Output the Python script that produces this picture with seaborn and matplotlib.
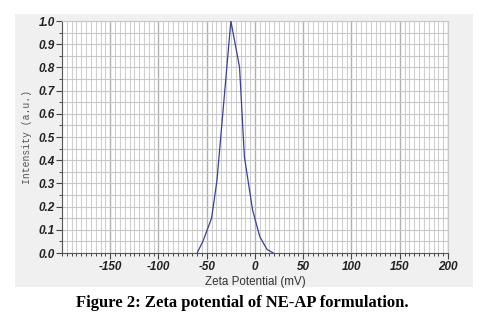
import matplotlib
matplotlib.use("Agg")
import matplotlib.pyplot as plt
import seaborn as sns
import numpy as np
import pandas as pd
from matplotlib.patches import Rectangle
from matplotlib.ticker import MultipleLocator, FixedLocator

zeta_mv = [-60, -54, -45, -39.5, -25, -16, -11, -2.5, 5, 12.5, 19]
intensity = [0.0, 0.05, 0.15, 0.31, 1.0, 0.80, 0.415, 0.185, 0.07, 0.015, 0.0]
x_ticks = [-150, -100, -50, 0, 50, 100, 150, 200]
y_ticks = [0.0, 0.1, 0.2, 0.3, 0.4, 0.5, 0.6, 0.7, 0.8, 0.9, 1.0]

df = pd.DataFrame({"Zeta": zeta_mv, "Intensity": intensity})

sns.set_style("white")
plt.rcParams["font.family"] = ["Liberation Sans", "DejaVu Sans"]

fig = plt.figure(figsize=(4.85, 3.27), dpi=100)
fig.patch.set_facecolor("white")
fig.add_artist(Rectangle((15/485, 1-287/327), (473-15)/485, (287-14)/327,
                         transform=fig.transFigure, facecolor="#f0f0f0",
                         edgecolor="none", zorder=0))

ax = fig.add_axes([62/485, 1-253/327, (448-62)/485, (253-21)/327])
ax.set_facecolor("white")

sns.lineplot(data=df, x="Zeta", y="Intensity", ax=ax, color="#3b3f94",
             linewidth=0.9, zorder=5)

ax.set_xlim(-200, 200)
ax.set_ylim(0, 1.0)
ax.xaxis.set_major_locator(FixedLocator(x_ticks))
ax.xaxis.set_minor_locator(MultipleLocator(5))
ax.yaxis.set_major_locator(FixedLocator(y_ticks))
ax.yaxis.set_minor_locator(MultipleLocator(0.05))
ax.set_yticklabels([f"{v:.1f}" for v in y_ticks])
ax.set_xticklabels([str(v) for v in x_ticks])

ax.grid(which="minor", axis="x", color="#cfcfcf", linewidth=0.8)
ax.grid(which="major", axis="x", color="#b0b0b0", linewidth=1.0)
ax.grid(which="both", axis="y", color="#c8c8c8", linewidth=0.8)

for lbl in ax.get_xticklabels() + ax.get_yticklabels():
    lbl.set_fontweight("bold")
    lbl.set_fontstyle("italic")
    lbl.set_fontsize(8.5)
    lbl.set_color("#222222")

ax.tick_params(which="major", direction="out", length=4, width=0.8, color="#444444",
               left=True, bottom=True)
ax.tick_params(which="minor", direction="out", length=2.5, width=0.7, color="#444444",
               left=True, bottom=True)
ax.tick_params(axis="x", pad=2)
ax.tick_params(axis="y", pad=1)

for s in ["top", "right"]:
    ax.spines[s].set_color("#c8c8c8")
    ax.spines[s].set_linewidth(0.8)
for s in ["left", "bottom"]:
    ax.spines[s].set_color("#555555")
    ax.spines[s].set_linewidth(0.8)

ax.set_xlabel("Zeta Potential (mV)", fontsize=8.4, color="#333333", labelpad=2)
ax.set_ylabel("Intensity (a.u.)", fontsize=7, color="#555555",
              family=["Liberation Mono", "DejaVu Sans Mono"], labelpad=5)

fig.text(0.5, 1-303/327, "Figure 2: Zeta potential of NE-AP formulation.",
         ha="center", va="center", fontsize=12, fontweight="bold",
         family=["Liberation Serif", "DejaVu Serif"], color="black")

fig.savefig("out.png", dpi=100)
